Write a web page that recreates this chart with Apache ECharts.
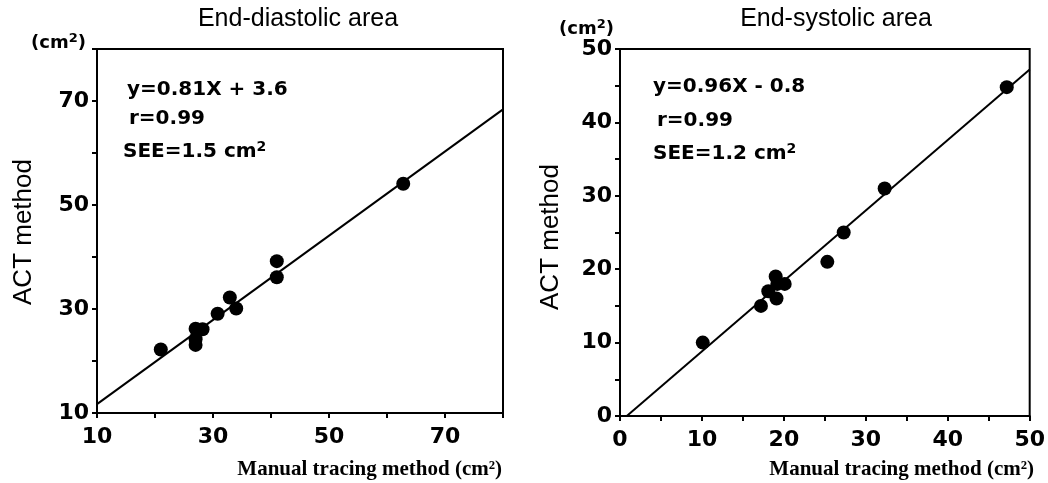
<!DOCTYPE html>
<html>
<head>
<meta charset="utf-8">
<script src="https://cdn.jsdelivr.net/npm/echarts@6/dist/echarts.min.js"></script>
<style>
html,body{margin:0;padding:0;background:#fff;}
#chart{width:1048px;height:483px;}
</style>
</head>
<body>
<div id="chart"></div>
<script>
// 舒张末期面积 (manual, ACT)
var diastolicPoints = [
	[21, 22.2], [27, 26.2], [27, 24.2], [27, 23.1], [28.2, 26.1],
	[30.8, 29.1], [32.9, 32.2], [34, 30.1], [41, 39.2], [41, 36.1], [62.8, 54.1]
];
var diastolicLine = [[10, 11.7], [80, 68.4]];
// 收缩末期面积
var systolicPoints = [
	[10.1, 10], [17.2, 15], [18.1, 17], [19, 19], [19.1, 16], [19.2, 18],
	[20.1, 18], [25.3, 21], [27.3, 25], [32.3, 31], [47.2, 44.8]
];
var systolicLine = [[0.83, 0], [50, 47.2]];

var leftXTicks = [10, 30, 50, 70];
var leftYTicks = [10, 30, 50, 70];
var rightXTicks = [0, 10, 20, 30, 40, 50];
var rightYTicks = [0, 10, 20, 30, 40, 50];

var sans = '"Liberation Sans", Arial, sans-serif';
var heavy = '"DejaVu Sans", sans-serif';
var serif = '"Liberation Serif", "Times New Roman", serif';

function axisOpt(gridIndex, min, max, interval, labels, isX) {
	return {
		type: 'value',
		gridIndex: gridIndex,
		min: min,
		max: max,
		interval: interval,
		splitLine: {show: false},
		axisLine: {show: true, onZero: false, lineStyle: {color: '#000', width: 2}},
		axisTick: {show: true, inside: false, length: 5, lineStyle: {color: '#000', width: 2}},
		axisLabel: {
			color: '#000',
			fontFamily: heavy,
			fontWeight: 'bold',
			fontSize: 22,
			margin: isX ? 13 : 8,
			formatter: function (v) {
				return labels.indexOf(v) >= 0 ? String(v) : '';
			}
		}
	};
}

function txt(x, y, str, size, weight, align, family) {
	return {
		type: 'text',
		x: x,
		y: y,
		style: {
			text: str,
			fill: '#000',
			font: (weight || 'normal') + ' ' + size + 'px ' + (family || sans),
			align: align || 'left',
			verticalAlign: 'middle'
		}
	};
}

// 带上标2的文字
function supText(x, y, parts, size) {
	var lh = size + 2;
	return {
		type: 'text',
		x: x,
		y: y,
		style: {
			text: parts,
			fill: '#000',
			verticalAlign: 'middle',
			rich: {
				a: {fontFamily: heavy, fontWeight: 'bold', fontSize: size, lineHeight: lh, verticalAlign: 'bottom'},
				s: {fontFamily: heavy, fontWeight: 'bold', fontSize: Math.round(size * 0.72), lineHeight: lh, verticalAlign: 'top'}
			}
		}
	};
}

var option = {
	animation: false,
	backgroundColor: '#fff',
	grid: [
		{left: 97, top: 49, width: 406, height: 364, show: true, borderColor: '#000', borderWidth: 2},
		{left: 620, top: 49, width: 410, height: 367, show: true, borderColor: '#000', borderWidth: 2}
	],
	xAxis: [
		axisOpt(0, 10, 80, 10, leftXTicks, true),
		axisOpt(1, 0, 50, 5, rightXTicks, true)
	],
	yAxis: [
		axisOpt(0, 10, 80, 10, leftYTicks, false),
		axisOpt(1, 0, 50, 5, rightYTicks, false)
	],
	series: [
		{
			type: 'line', xAxisIndex: 0, yAxisIndex: 0, data: diastolicLine,
			symbol: 'none', lineStyle: {color: '#000', width: 2}, z: 2
		},
		{
			type: 'scatter', xAxisIndex: 0, yAxisIndex: 0, data: diastolicPoints,
			symbolSize: 14, itemStyle: {color: '#000', opacity: 1}, z: 3
		},
		{
			type: 'line', xAxisIndex: 1, yAxisIndex: 1, data: systolicLine,
			symbol: 'none', lineStyle: {color: '#000', width: 2}, z: 2
		},
		{
			type: 'scatter', xAxisIndex: 1, yAxisIndex: 1, data: systolicPoints,
			symbolSize: 14, itemStyle: {color: '#000', opacity: 1}, z: 3
		}
	],
	graphic: [
		txt(298, 19, 'End-diastolic area', 25, 'normal', 'center'),
		txt(836, 19, 'End-systolic area', 25, 'normal', 'center'),
		supText(31, 42, '{a|(cm}{s|2}{a|)}', 18),
		supText(559, 28, '{a|(cm}{s|2}{a|)}', 18),
		{
			type: 'text', x: 24, y: 232, rotation: Math.PI / 2,
			style: {text: 'ACT method', fill: '#000', font: 'normal 26px ' + sans, align: 'center', verticalAlign: 'middle'}
		},
		{
			type: 'text', x: 551, y: 237, rotation: Math.PI / 2,
			style: {text: 'ACT method', fill: '#000', font: 'normal 26px ' + sans, align: 'center', verticalAlign: 'middle'}
		},
		txt(127, 90, 'y=0.81X + 3.6', 20, 'bold', 'left', heavy),
		txt(129, 119, 'r=0.99', 20, 'bold', 'left', heavy),
		supText(123, 151, '{a|SEE=1.5 cm}{s|2}', 20),
		txt(653, 87, 'y=0.96X - 0.8', 20, 'bold', 'left', heavy),
		txt(657, 121, 'r=0.99', 20, 'bold', 'left', heavy),
		supText(653, 153, '{a|SEE=1.2 cm}{s|2}', 20),
		txt(502, 470, 'Manual tracing method (cm\u00b2)', 21, 'bold', 'right', serif),
		txt(1034, 470, 'Manual tracing method (cm\u00b2)', 21, 'bold', 'right', serif)
	]
};

var myChart = echarts.init(document.getElementById('chart'));
myChart.setOption(option);
</script>
</body>
</html>
